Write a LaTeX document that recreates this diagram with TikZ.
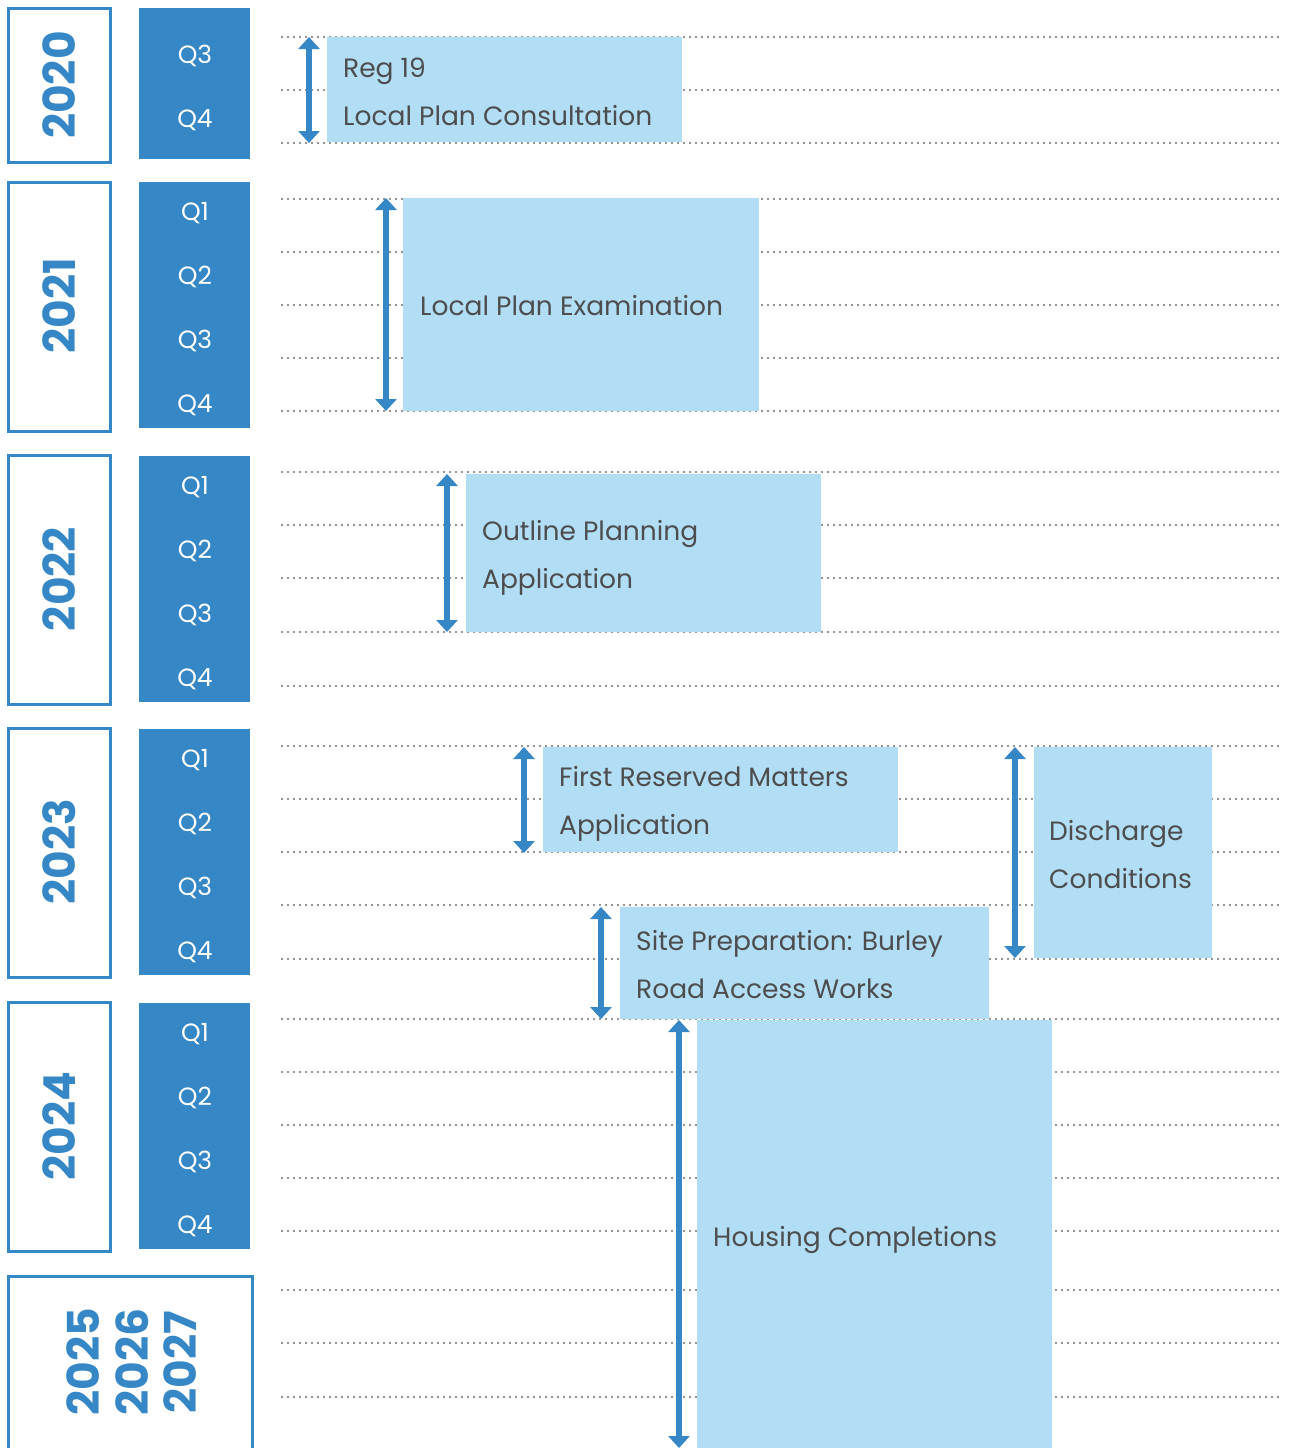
\documentclass[tikz,border=0pt]{standalone}
\usepackage{fontspec}
\setmainfont{Poppins}
\usetikzlibrary{arrows.meta}
\definecolor{qblue}{HTML}{3587C5}
\definecolor{lblue}{HTML}{B2DEF5}
\definecolor{tgray}{HTML}{4D4D4D}
\definecolor{dgray}{HTML}{707070}
\begin{document}
\begin{tikzpicture}[x=1pt,y=-1pt,
  yearbox/.style={draw=qblue, line width=2.5pt, fill=white, inner sep=0pt, anchor=north west},
  qbox/.style={fill=qblue, inner sep=0pt, anchor=north west},
  actbox/.style={fill=lblue, inner sep=0pt, anchor=north west},
  yeartext/.style={text=qblue, font=\fontsize{44}{44}\selectfont\bfseries, rotate=90, inner sep=0pt},
  qtext/.style={text=white, font=\fontsize{25}{25}\selectfont, anchor=base, inner sep=0pt},
  acttext/.style={text=tgray, font=\fontsize{26.5}{26.5}\selectfont, anchor=base west, inner sep=0pt},
  dotline/.style={draw=dgray, line width=2.2pt, line cap=round, dash pattern=on 0pt off 6pt},
  span/.style={draw=qblue, line width=6pt, {Triangle[width=21pt,length=12pt]}-{Triangle[width=21pt,length=12pt]}}
]
\useasboundingbox (0,0) rectangle (1290,1448);
\fill[white] (0,0) rectangle (1290,1448);

% dotted grid lines
\foreach \yy in {37,90,143,199,252,305,358,411,472,525,578,632,686,746,799,852,905,959,1019,1072,1125,1178,1231,1290,1343,1397}
  \draw[dotline] (282,\yy) -- (1278,\yy);

% year boxes
\node[yearbox, minimum width=102pt, minimum height=154pt] (y2020) at (7,7) {};
\node[yearbox, minimum width=102pt, minimum height=249pt] (y2021) at (7,181) {};
\node[yearbox, minimum width=102pt, minimum height=249pt] (y2022) at (7,454) {};
\node[yearbox, minimum width=102pt, minimum height=249pt] (y2023) at (7,727) {};
\node[yearbox, minimum width=102pt, minimum height=249pt] (y2024) at (7,1001) {};
\node[yearbox, minimum width=244pt, minimum height=200pt] (y2025) at (7,1275) {};

\node[yeartext] (t2020) at (59,85) {2020};
\node[yeartext] (t2021) at (59,306) {2021};
\node[yeartext] (t2022) at (59,579) {2022};
\node[yeartext] (t2023) at (59,852) {2023};
\node[yeartext] (t2024) at (59,1126) {2024};
\node[yeartext] (t2025) at (83,1362) {2025};
\node[yeartext] (t2026) at (132,1362) {2026};
\node[yeartext] (t2027) at (180,1362) {2027};

% quarter boxes
\node[qbox, minimum width=111pt, minimum height=151pt] (q2020) at (139,8) {};
\node[qbox, minimum width=111pt, minimum height=246pt] (q2021) at (139,182) {};
\node[qbox, minimum width=111pt, minimum height=246pt] (q2022) at (139,456) {};
\node[qbox, minimum width=111pt, minimum height=246pt] (q2023) at (139,729) {};
\node[qbox, minimum width=111pt, minimum height=246pt] (q2024) at (139,1003) {};

\node[qtext] (q20c) at (195,63) {Q3};
\node[qtext] (q20d) at (195,127) {Q4};
\node[qtext] (q21a) at (195,220) {Q1};
\node[qtext] (q21b) at (195,284) {Q2};
\node[qtext] (q21c) at (195,348) {Q3};
\node[qtext] (q21d) at (195,412) {Q4};
\node[qtext] (q22a) at (195,494) {Q1};
\node[qtext] (q22b) at (195,558) {Q2};
\node[qtext] (q22c) at (195,622) {Q3};
\node[qtext] (q22d) at (195,686) {Q4};
\node[qtext] (q23a) at (195,767) {Q1};
\node[qtext] (q23b) at (195,831) {Q2};
\node[qtext] (q23c) at (195,895) {Q3};
\node[qtext] (q23d) at (195,959) {Q4};
\node[qtext] (q24a) at (195,1041) {Q1};
\node[qtext] (q24b) at (195,1105) {Q2};
\node[qtext] (q24c) at (195,1169) {Q3};
\node[qtext] (q24d) at (195,1233) {Q4};

% activity boxes
\node[actbox, minimum width=355pt, minimum height=105pt] (reg) at (327,37) {};
\node[actbox, minimum width=356pt, minimum height=213pt] (lpe) at (403,198) {};
\node[actbox, minimum width=355pt, minimum height=158pt] (opa) at (466,474) {};
\node[actbox, minimum width=355pt, minimum height=105pt] (frm) at (543,747) {};
\node[actbox, minimum width=178pt, minimum height=211pt] (dc) at (1034,747) {};
\node[actbox, minimum width=369pt, minimum height=112pt] (sp) at (620,907) {};
\node[actbox, minimum width=355pt, minimum height=440pt] (hc) at (697,1020) {};

\node[acttext] (regA) at (343,77.5) {Reg 19};
\node[acttext] (regB) at (343,125.5) {Local Plan Consultation};
\node[acttext] (lpeA) at (420,315.5) {Local Plan Examination};
\node[acttext] (opaA) at (482,540.5) {Outline Planning};
\node[acttext] (opaB) at (482,588.5) {Application};
\node[acttext] (frmA) at (559,786.5) {First Reserved Matters};
\node[acttext] (frmB) at (559,834.5) {Application};
\node[acttext] (dcA) at (1049,840.5) {Discharge};
\node[acttext] (dcB) at (1049,888.5) {Conditions};
\node[acttext] (spA) at (636,950.5) {Site Preparation: Burley};
\node[acttext] (spB) at (636,998.5) {Road Access Works};
\node[acttext] (hcA) at (713,1246.5) {Housing Completions};

% span arrows
\coordinate (a1t) at (309,37);   \coordinate (a1b) at (309,143);
\coordinate (a2t) at (386,198);  \coordinate (a2b) at (386,411);
\coordinate (a3t) at (447,474);  \coordinate (a3b) at (447,632);
\coordinate (a4t) at (524,747);  \coordinate (a4b) at (524,853);
\coordinate (a5t) at (1015,747); \coordinate (a5b) at (1015,958);
\coordinate (a6t) at (601,907);  \coordinate (a6b) at (601,1019);
\coordinate (a7t) at (679,1020); \coordinate (a7b) at (679,1448);
\draw[span] (a1t) -- (a1b);
\draw[span] (a2t) -- (a2b);
\draw[span] (a3t) -- (a3b);
\draw[span] (a4t) -- (a4b);
\draw[span] (a5t) -- (a5b);
\draw[span] (a6t) -- (a6b);
\draw[span] (a7t) -- (a7b);
\end{tikzpicture}
\end{document}
